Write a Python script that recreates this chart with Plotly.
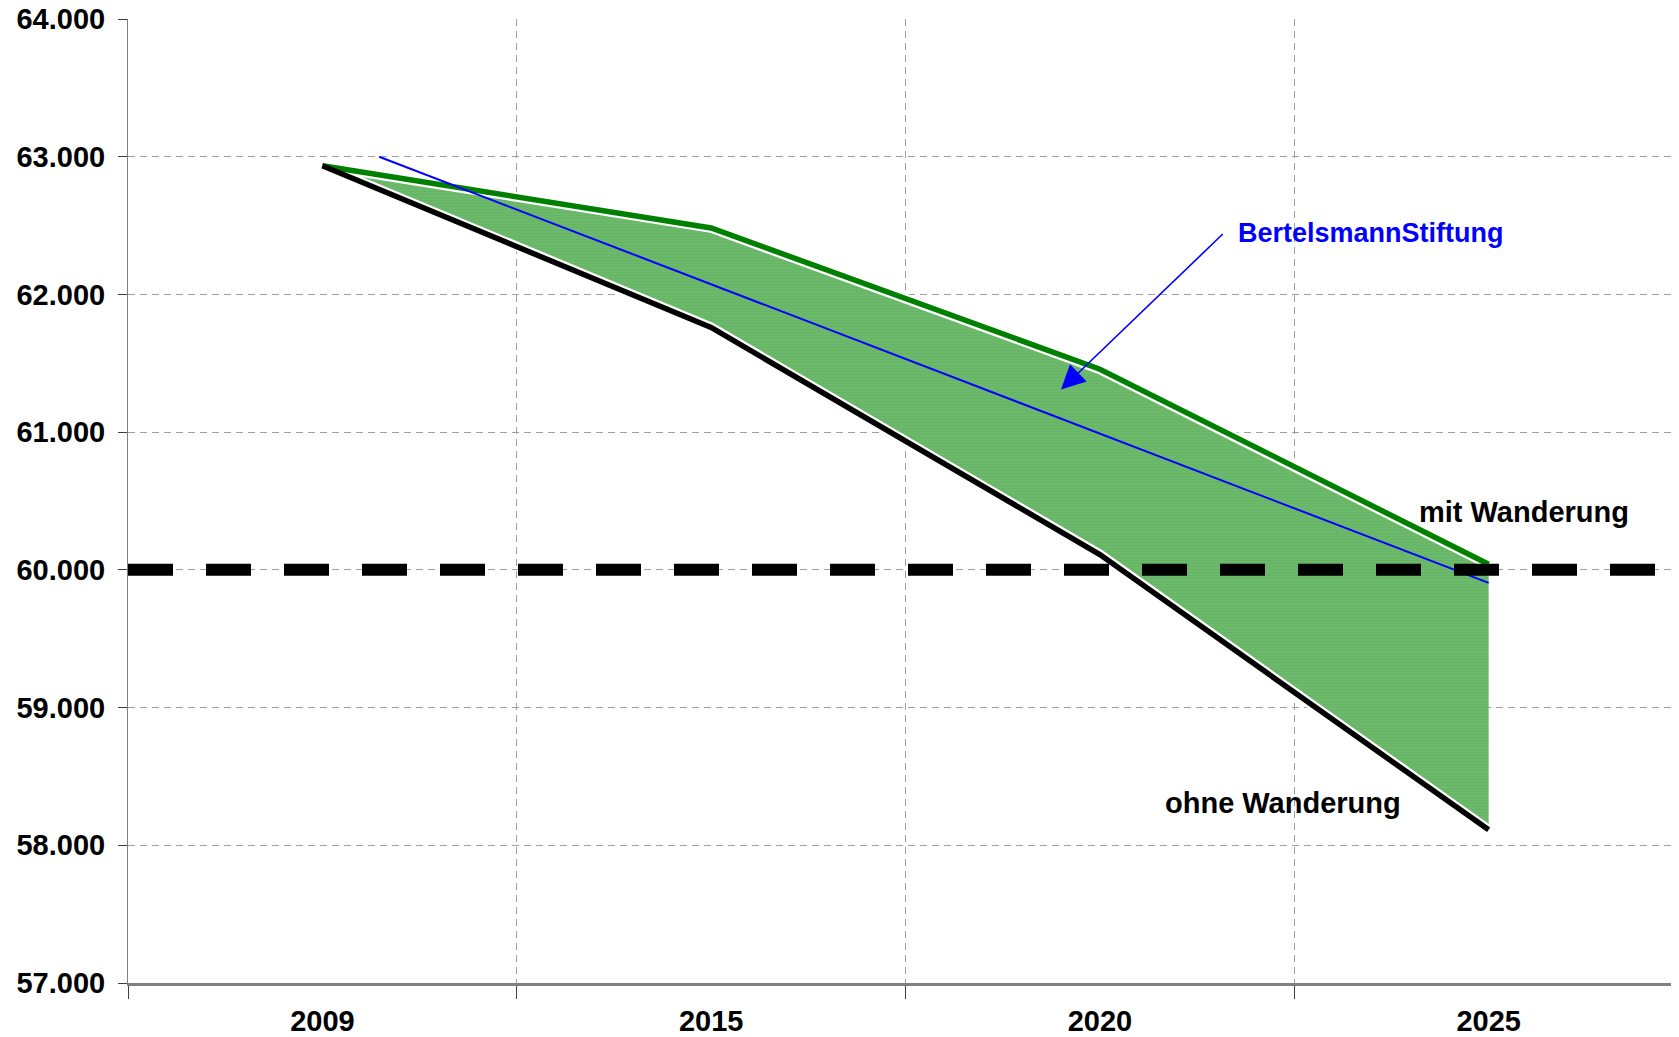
"""
Erwerbspersonen-Projektion mit / ohne Wanderung
"""
import plotly.graph_objects as go

# ── Data ───────────────────────────────────────────────────────────────────────
YEARS = ["2009", "2015", "2020", "2025"]
POS = [0, 1, 2, 3]  # category positions on the x axis

MIT_WANDERUNG = [62934, 62483, 61457, 60041]
OHNE_WANDERUNG = [62934, 61760, 60111, 58112]

# Bertelsmann Stiftung projection (start between 2009 and 2015, end 2025)
BERTELSMANN_X = [0.146, 3.0]
BERTELSMANN_Y = [63000, 59905]

THRESHOLD = 60000

# ── Colors ─────────────────────────────────────────────────────────────────────
GREEN = "#008000"
FILL = "#6cb96c"
BLUE = "#0000ff"
BLACK = "#000000"
GRID = "#a0a0a0"
AXIS = "#808080"

FONT = "Arial, Liberation Sans, sans-serif"

fig = go.Figure()

# ── Band between the two scenarios ─────────────────────────────────────────────
fig.add_trace(go.Scatter(
    x=POS + POS[::-1],
    y=MIT_WANDERUNG + OHNE_WANDERUNG[::-1],
    fill="toself",
    fillcolor=FILL,
    fillpattern=dict(shape="-", bgcolor=FILL, fgcolor="#60b060", size=3, solidity=0.35),
    line=dict(width=0),
    mode="none",
    hoverinfo="skip",
))

# white halo so the band sits slightly off the lines
for vals in (MIT_WANDERUNG, OHNE_WANDERUNG):
    fig.add_trace(go.Scatter(
        x=POS, y=vals, mode="lines",
        line=dict(color="white", width=10),
        hoverinfo="skip",
    ))

fig.add_trace(go.Scatter(
    x=POS, y=MIT_WANDERUNG, mode="lines",
    line=dict(color=GREEN, width=5.5),
    name="mit Wanderung",
))
fig.add_trace(go.Scatter(
    x=POS, y=OHNE_WANDERUNG, mode="lines",
    line=dict(color=BLACK, width=5.5),
    name="ohne Wanderung",
))

# ── 60.000 threshold ───────────────────────────────────────────────────────────
fig.add_hline(y=THRESHOLD, line=dict(color=BLACK, width=12, dash="45px,33px"))

fig.add_trace(go.Scatter(
    x=BERTELSMANN_X, y=BERTELSMANN_Y, mode="lines",
    line=dict(color=BLUE, width=2),
    name="BertelsmannStiftung",
))

# ── Labels ─────────────────────────────────────────────────────────────────────
label_font = dict(family=FONT, size=29, color=BLACK, weight="bold")
fig.add_annotation(x=3.09, y=60422, text="mit Wanderung", showarrow=False,
                   font=label_font, xanchor="center", yanchor="middle")
fig.add_annotation(x=2.47, y=58309, text="ohne Wanderung", showarrow=False,
                   font=label_font, xanchor="center", yanchor="middle")
fig.add_annotation(x=2.35, y=62449, text="BertelsmannStiftung", showarrow=False,
                   font=dict(family=FONT, size=27, color=BLUE, weight="bold"),
                   xanchor="left", yanchor="middle")
fig.add_annotation(
    x=1.90, y=61309, ax=2.32, ay=62449, axref="x", ayref="y",
    text="", showarrow=True, arrowhead=2, arrowsize=3, arrowwidth=1.6,
    arrowcolor=BLUE,
)

# page body adds an 8px offset, margins compensate for it
fig.update_layout(
    width=1679,
    height=1037,
    paper_bgcolor="white",
    plot_bgcolor="white",
    separators=",.",
    showlegend=False,
    margin=dict(l=120, r=4, t=11, b=62),
    font=dict(family=FONT, size=29, color=BLACK),
    xaxis=dict(
        range=[-0.5, 3.5],
        tickvals=POS,
        ticktext=YEARS,
        ticks="",
        showgrid=False,
        zeroline=False,
        showline=True,
        linecolor=AXIS,
        linewidth=3,
        automargin=False,
        tickfont=dict(family=FONT, size=29, color=BLACK, weight="bold"),
        ticklabelstandoff=10,
        ticklabeloverflow="allow",
        minor=dict(
            tick0=-0.5, dtick=1, showgrid=True, gridcolor=GRID, griddash="7px,5px",
            gridwidth=1, ticks="outside", ticklen=13, tickcolor="#404040", tickwidth=1,
        ),
    ),
    yaxis=dict(
        range=[57000, 64000],
        dtick=1000,
        tickformat=",.0f",
        showgrid=True,
        gridcolor=GRID,
        griddash="7px,5px",
        gridwidth=1,
        zeroline=False,
        showline=True,
        linecolor=AXIS,
        linewidth=1,
        ticks="outside",
        ticklen=9,
        tickcolor="#404040",
        automargin=False,
        tickfont=dict(family=FONT, size=29, color=BLACK, weight="bold"),
        ticklabelstandoff=7,
        ticklabeloverflow="allow",
    ),
)

fig.write_html("out.html")
